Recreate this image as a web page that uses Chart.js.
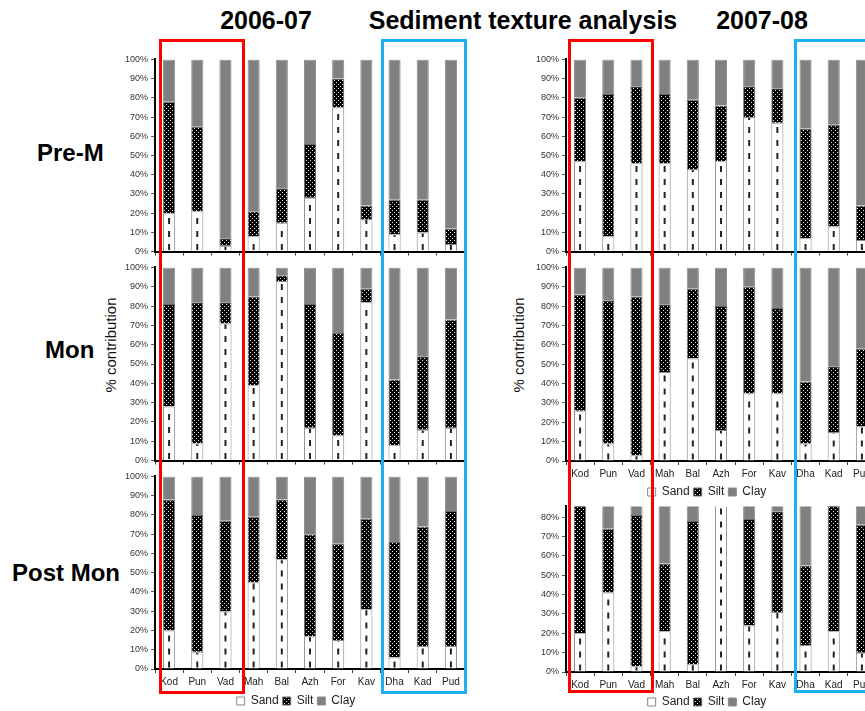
<!DOCTYPE html>
<html>
<head>
<meta charset="utf-8">
<title>Sediment texture analysis</title>
<script src="https://cdn.jsdelivr.net/npm/chart.js@4.4.0/dist/chart.umd.min.js"></script>
<style>
  html, body { margin: 0; padding: 0; background: #fff; overflow: hidden; }
  body { width: 865px; height: 711px; position: relative; font-family: "Liberation Sans", Arial, sans-serif; }
  canvas { position: absolute; }
  .head { position: absolute; top: 8px; width: 400px; text-align: center; font-weight: bold; font-size: 25px; line-height: 25px; white-space: nowrap; }
  .row { position: absolute; font-weight: bold; font-size: 24px; line-height: 24px; white-space: nowrap; }
  .ytitle { position: absolute; font-size: 15px; line-height: 15px; white-space: nowrap; color: #111;
            transform: translate(-50%, -50%) rotate(-90deg); }
  .box { position: absolute; box-sizing: border-box; border: 3px solid; z-index: 5; }
  .red { border-color: #ff0000; }
  .blue { border-color: #1cb0f0; }
</style>
</head>
<body>

<div class="head" style="left:66px">2006-07</div>
<div class="head" style="left:323px">Sediment texture analysis</div>
<div class="head" style="left:562px">2007-08</div>

<div class="row" style="left:37px; top:141px">Pre-M</div>
<div class="row" style="left:45px; top:338px">Mon</div>
<div class="row" style="left:12px; top:561px">Post Mon</div>

<div class="ytitle" style="left:110px; top:345px">% contribution</div>
<div class="ytitle" style="left:518px; top:345px">% contribution</div>

<canvas id="preM0607"></canvas>
<canvas id="mon0607"></canvas>
<canvas id="post0607"></canvas>
<canvas id="preM0708"></canvas>
<canvas id="mon0708"></canvas>
<canvas id="post0708"></canvas>

<div class="box red"  style="left:159px; top:39px; width:86px; height:655px"></div>
<div class="box blue" style="left:381px; top:39px; width:86px; height:655px"></div>
<div class="box red"  style="left:568px; top:39px; width:86px; height:654px"></div>
<div class="box blue" style="left:794px; top:39px; width:100px; height:654px"></div>

<script>
// Sampling sites, upstream to downstream
const sites = ['Kod', 'Pun', 'Vad', 'Mah', 'Bal', 'Azh', 'For', 'Kav', 'Dha', 'Kad', 'Pud'];
const percentTicks = [0, 10, 20, 30, 40, 50, 60, 70, 80, 90, 100];

// 2006-07 (% of sample)
const sandPreM0607 = [20, 21, 3, 8, 15, 28, 75, 17, 9, 10, 4];
const siltPreM0607 = [58, 44, 4, 13, 18, 28, 15, 7, 18, 17, 8];
const clayPreM0607 = [22, 35, 93, 79, 67, 44, 10, 76, 73, 73, 88];

const sandMon0607 = [28, 9, 71, 39, 93, 17, 13, 82, 8, 16, 17];
const siltMon0607 = [53, 73, 11, 46, 3, 64, 53, 7, 34, 38, 56];
const clayMon0607 = [19, 18, 18, 15, 4, 19, 34, 11, 58, 46, 27];

const sandPost0607 = [20, 9, 30, 45, 57, 17, 15, 31, 6, 12, 12];
const siltPost0607 = [68, 71, 47, 34, 31, 53, 50, 47, 60, 62, 70];
const clayPost0607 = [12, 20, 23, 21, 12, 30, 35, 22, 34, 26, 18];

// 2007-08 (% of sample)
const sandPreM0708 = [47, 8, 46, 46, 43, 47, 70, 67, 7, 13, 6];
const siltPreM0708 = [33, 74, 40, 36, 36, 29, 16, 18, 57, 53, 18];
const clayPreM0708 = [20, 18, 14, 18, 21, 24, 14, 15, 36, 34, 76];

const sandMon0708 = [26, 9, 3, 46, 53, 16, 35, 35, 9, 15, 18];
const siltMon0708 = [60, 74, 82, 35, 36, 64, 55, 44, 32, 34, 40];
const clayMon0708 = [14, 17, 15, 19, 11, 20, 10, 21, 59, 51, 42];

const sandPost0708 = [20, 41, 3, 21, 4, 90, 24, 31, 14, 21, 10];
const siltPost0708 = [68, 33, 78, 35, 74, 0, 55, 52, 41, 68, 66];
const clayPost0708 = [12, 26, 19, 44, 22, 10, 21, 17, 45, 11, 24];

Chart.defaults.font.family = '"Liberation Sans", Arial, sans-serif';
Chart.defaults.color = '#222';

const Y_AXIS_W = 50;
const PAD_TOP = 8;
const LEGEND_H = 26;

// Black fill with a staggered grid of white dots (silt)
function dotPattern(ctx) {
    const tile = document.createElement('canvas');
    tile.width = 4;
    tile.height = 4;
    const g = tile.getContext('2d');
    g.fillStyle = '#000';
    g.fillRect(0, 0, 4, 4);
    g.fillStyle = '#e8e8e8';
    g.fillRect(1, 1, 1, 1);
    g.fillRect(3, 3, 1, 1);
    return ctx.createPattern(tile, 'repeat');
}

// Dashed black stroke up the middle of every sand bar
const sandDashes = {
    id: 'sandDashes',
    afterDatasetsDraw(chart) {
        const ctx = chart.ctx;
        const area = chart.chartArea;
        ctx.save();
        ctx.beginPath();
        ctx.rect(area.left, area.top, area.right - area.left, area.bottom - area.top);
        ctx.clip();
        ctx.strokeStyle = '#222';
        ctx.lineWidth = 2;
        ctx.setLineDash([6, 7]);
        chart.getDatasetMeta(0).data.forEach(bar => {
            if (bar.base - bar.y < 3) return;
            ctx.beginPath();
            ctx.moveTo(bar.x, bar.base - 1);
            ctx.lineTo(bar.x, bar.y + 1);
            ctx.stroke();
        });
        ctx.restore();
    }
};

// Nudge the legend sideways without touching the plot area
const legendShift = {
    id: 'legendShift',
    afterLayout(chart, args, opts) {
        if (chart.legend && opts.dx) {
            chart.legend.left += opts.dx;
            chart.legend.right += opts.dx;
        }
    }
};

function makePanel(id, sand, silt, clay, p) {
    const canvas = document.getElementById(id);
    const height = (p.plotBottom - p.plotTop) + PAD_TOP + p.xAxisH + (p.legend ? LEGEND_H : 0);
    canvas.width = p.width;
    canvas.height = height;
    canvas.style.left = (p.axisX - Y_AXIS_W) + 'px';
    canvas.style.top = (p.plotTop - PAD_TOP) + 'px';
    const ctx = canvas.getContext('2d');
    const yMax = p.yMax || 100;

    return new Chart(ctx, {
        type: 'bar',
        data: {
            labels: sites,
            datasets: [{
                label: 'Sand',
                data: sand,
                backgroundColor: '#ffffff',
                borderColor: '#8a8a8a',
                borderWidth: 1
            }, {
                label: 'Silt',
                data: silt,
                backgroundColor: dotPattern(ctx),
                borderColor: '#6a6a6a',
                borderWidth: 1
            }, {
                label: 'Clay',
                data: clay,
                backgroundColor: '#808080',
                borderColor: '#8c8c8c',
                borderWidth: 1
            }]
        },
        options: {
            responsive: false,
            animation: false,
            devicePixelRatio: 1,
            layout: { padding: { top: PAD_TOP, left: 0, right: 0, bottom: 0 } },
            datasets: {
                bar: { categoryPercentage: 1, barPercentage: 0.43 }
            },
            plugins: {
                legend: {
                    display: !!p.legend,
                    position: 'bottom',
                    labels: {
                        boxWidth: 8,
                        boxHeight: 8,
                        padding: 4,
                        color: '#222',
                        font: { size: 12 }
                    }
                },
                legendShift: { dx: p.legendDx || 0 },
                tooltip: { enabled: false }
            },
            scales: {
                x: {
                    stacked: true,
                    grid: { display: true, drawOnChartArea: false, offset: true, tickLength: 4, color: '#444' },
                    border: { display: true, color: '#000', width: 2 },
                    ticks: { display: !!p.labels, padding: 3, color: '#222', font: { size: 10 }, maxRotation: 0 },
                    afterFit: s => { s.height = p.xAxisH; }
                },
                y: {
                    stacked: true,
                    min: 0,
                    max: yMax,
                    grid: { display: true, drawOnChartArea: false, tickLength: 4, color: '#555' },
                    border: { display: true, color: '#000', width: 2 },
                    ticks: {
                        padding: 3,
                        color: '#333',
                        font: { size: 9 },
                        callback: function(value) {
                            return value + '%';
                        }
                    },
                    afterBuildTicks: s => {
                        s.ticks = percentTicks.filter(v => v <= yMax).map(v => ({ value: v }));
                    },
                    afterFit: s => { s.width = Y_AXIS_W; }
                }
            }
        },
        plugins: [sandDashes, legendShift]
    });
}

// 2006-07 column
makePanel('preM0607', sandPreM0607, siltPreM0607, clayPreM0607,
    { axisX: 155, width: 360, plotTop: 59, plotBottom: 252, xAxisH: 8 });
makePanel('mon0607', sandMon0607, siltMon0607, clayMon0607,
    { axisX: 155, width: 360, plotTop: 267, plotBottom: 461, xAxisH: 8 });
makePanel('post0607', sandPost0607, siltPost0607, clayPost0607,
    { axisX: 155, width: 360, plotTop: 476, plotBottom: 669, xAxisH: 22, labels: true, legend: true, legendDx: 11 });

// 2007-08 column
makePanel('preM0708', sandPreM0708, siltPreM0708, clayPreM0708,
    { axisX: 566, width: 360, plotTop: 59, plotBottom: 252, xAxisH: 8 });
makePanel('mon0708', sandMon0708, siltMon0708, clayMon0708,
    { axisX: 566, width: 360, plotTop: 267, plotBottom: 461, xAxisH: 21, labels: true, legend: true, legendDx: 11 });
makePanel('post0708', sandPost0708, siltPost0708, clayPost0708,
    { axisX: 566, width: 360, plotTop: 506, plotBottom: 672, xAxisH: 20, labels: true, legend: true, legendDx: 11, yMax: 85.5 });
</script>
</body>
</html>
